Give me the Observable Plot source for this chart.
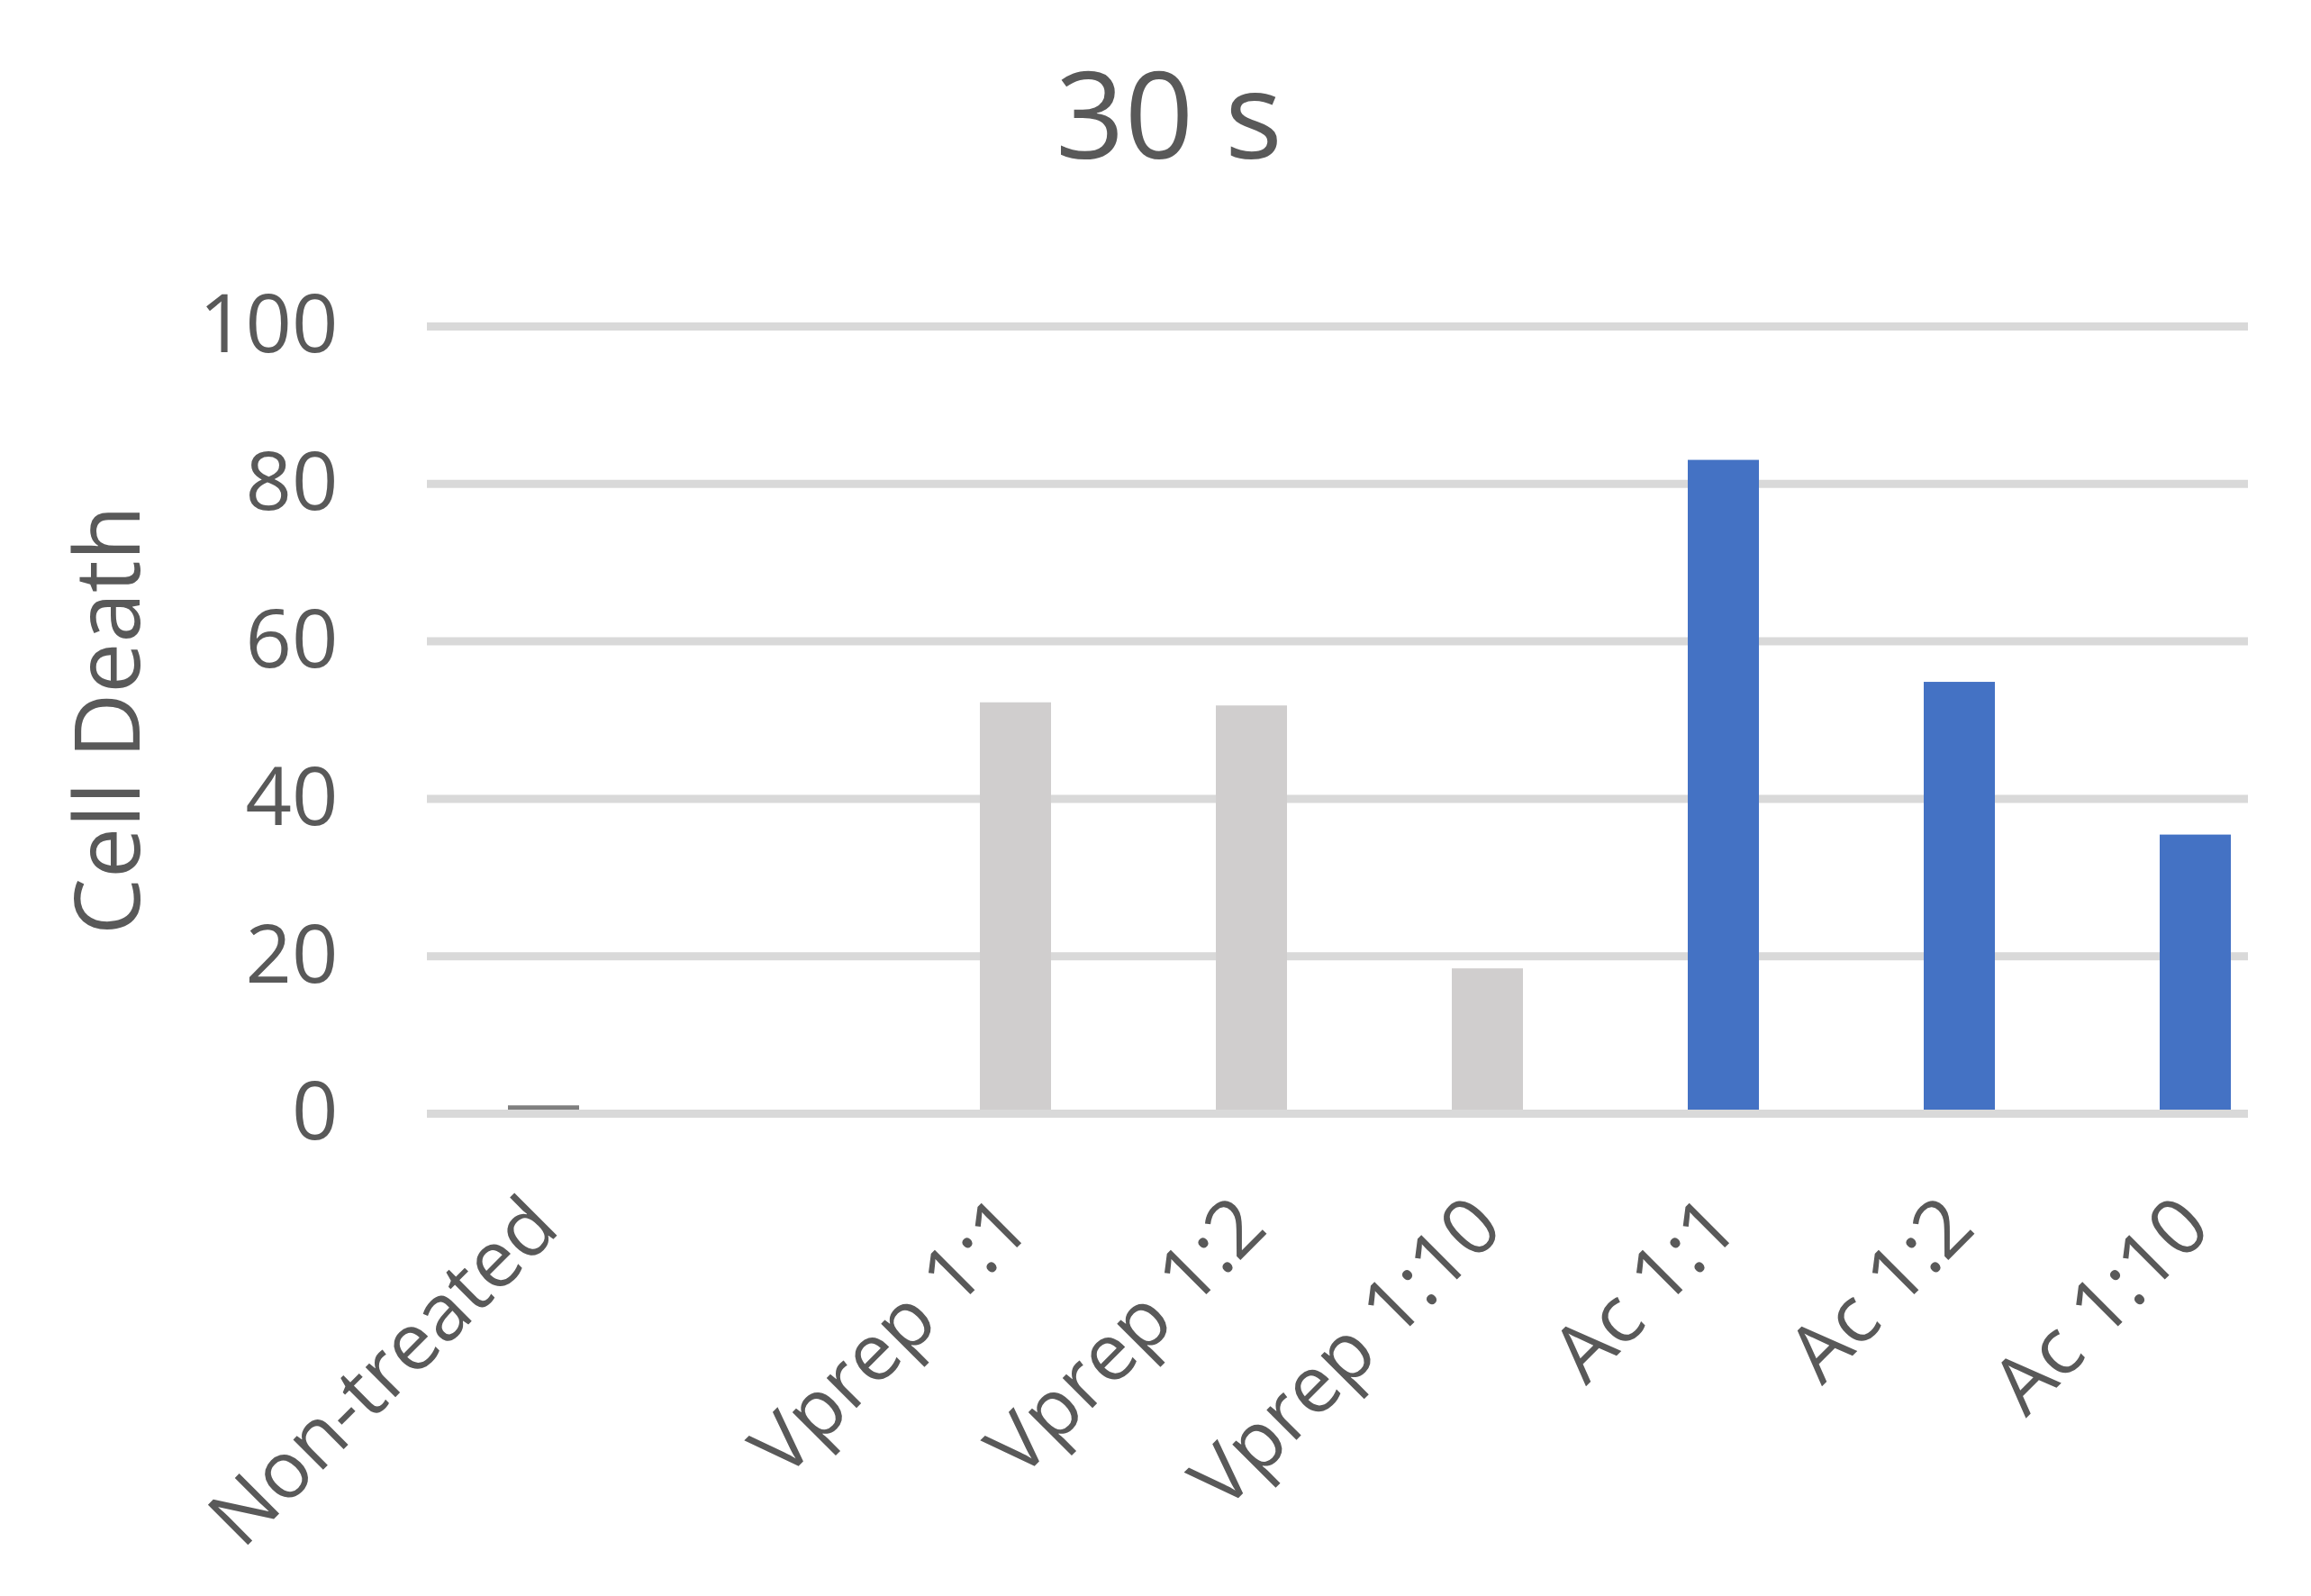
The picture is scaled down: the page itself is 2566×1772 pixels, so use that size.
<!DOCTYPE html>
<html><head><meta charset="utf-8">
<script src="https://cdn.jsdelivr.net/npm/d3@7"></script>
<script src="https://cdn.jsdelivr.net/npm/@observablehq/plot@0.6"></script>
<style>
html,body{margin:0;padding:0;background:#fff;}
#title{height:240px;position:relative;font-family:"Open Sans",sans-serif;color:#595959;}
#title span{position:absolute;left:30px;right:0;text-align:center;top:57px;font-size:134px;line-height:134px;}
#chart svg{display:block;}
</style></head><body>
<div id="chart"><div id="title"><span>30 s</span></div></div>
<script>
const categories = ["Non-treated", "", "Vprep 1:1", "Vprep 1:2", "Vprep 1:10", "Ac 1:1", "Ac 1:2", "Ac 1:10"];
const values = [1.0, null, 52.2, 51.8, 18.4, 83.0, 54.8, 35.4];
const groups = ["Control", "", "Vprep", "Vprep", "Vprep", "Ac", "Ac", "Ac"];
const yTicks = [0, 20, 40, 60, 80, 100];
const yLabel = "Cell Death";
const groupNames = ["Control", "Vprep", "Ac"];
const groupColors = ["#7f7f7f", "#d0cece", "#4472c4"];

const data = categories.map((c, i) => ({category: c, value: values[i], group: groups[i]}))
  .filter(d => d.value != null);

const chart = Plot.plot({
  width: 2566,
  height: 1532,
  marginTop: 122,
  marginBottom: 536,
  marginLeft: 474,
  marginRight: 70,
  style: {fontFamily: "'Open Sans', sans-serif", color: "#595959", background: "#fff"},
  x: {domain: categories, range: [471, 2570], paddingInner: 0.7, paddingOuter: 0.35, axis: null},
  y: {domain: [0, 100], axis: null},
  color: {domain: groupNames, range: groupColors},
  marks: [
    Plot.gridY(yTicks, {stroke: "#d9d9d9", strokeOpacity: 1, strokeWidth: 9}),
    Plot.barY(data, {x: "category", y: "value", fill: "group"}),
    Plot.ruleY([0], {stroke: "#d9d9d9", strokeWidth: 9}),
    Plot.axisY({ticks: yTicks, tickSize: 0, tickPadding: 99, fontSize: 90, label: null}),
    Plot.text([yLabel], {frameAnchor: "left", rotate: -90, dx: -352, textAnchor: "middle",
      lineAnchor: "middle", fontSize: 100, fill: "#595959"}),
    Plot.axisX({tickRotate: -45, tickSize: 0, tickPadding: 110, fontSize: 88, label: null})
  ]
});
document.getElementById("chart").appendChild(chart);
</script>
</body></html>
